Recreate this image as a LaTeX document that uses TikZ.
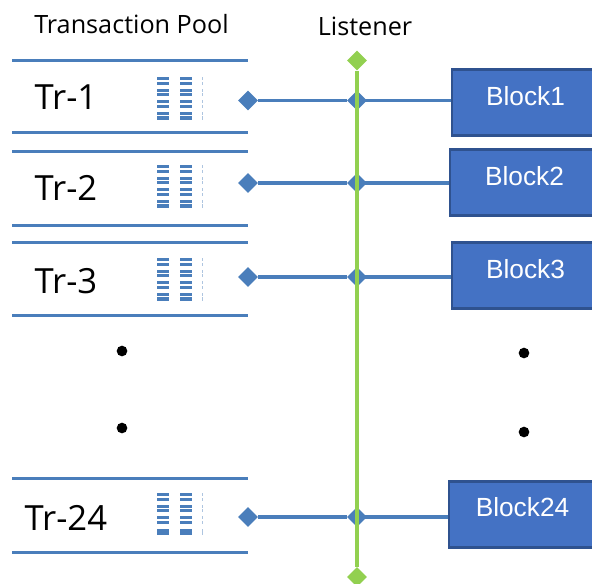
\documentclass[tikz,border=0pt]{standalone}
\usepackage{fontspec}
\setmainfont{Liberation Sans}
\newfontfamily\trfont{Open Sans}
\usetikzlibrary{shapes.geometric}
\definecolor{rowblue}{HTML}{4A7EBB}
\definecolor{boxfill}{HTML}{4472C4}
\definecolor{boxedge}{HTML}{2F528F}
\definecolor{listen}{HTML}{92D050}
\tikzset{
  x=0.75pt,y=-0.75pt,
  rowline/.style={draw=rowblue,line width=2.25pt},
  connector/.style={draw=rowblue,line width=2.5pt},
  tap/.style={diamond,fill=rowblue,inner sep=0pt,minimum width=15pt,minimum height=15pt},
  endtap/.style={diamond,fill=listen,inner sep=0pt,minimum width=15pt,minimum height=15pt},
  blockbox/.style={draw=boxedge,fill=boxfill,line width=2.2pt,anchor=north west,inner sep=0pt},
  blocktext/.style={text=white,font=\fontsize{19.7pt}{22pt}\selectfont},
  trtext/.style={font=\trfont\fontsize{26pt}{30pt}\selectfont,text=black},
  toptext/.style={font=\trfont\fontsize{18.9pt}{22pt}\selectfont,text=black},
  dotmark/.style={circle,fill=black,inner sep=0pt,minimum size=8pt},
}
\newcommand{\barpair}[2]{%
  \fill[rowblue] (157,#1) rectangle (169,#2);
  \fill[rowblue] (180,#1) rectangle (192,#2);
  \fill[rowblue!45] (201.5,#1) rectangle (203,#2);
}
\newcommand{\barsicon}[1]{%
  \foreach \d in {0,4.6,11.6,16.2,23.2,27.8,34.8,39.4}{%
    \pgfmathsetmacro{\ya}{#1+\d}\pgfmathsetmacro{\yb}{#1+\d+3.1}%
    \barpair{\ya}{\yb}}%
}
\begin{document}
\begin{tikzpicture}
\useasboundingbox (0,0) rectangle (592,583);
\fill[white] (0,0) rectangle (592,583);

% headings
\node[toptext,anchor=center] (poolhead) at (131.5,24) {Transaction Pool};
\node[toptext,anchor=center] (listhead) at (365,26) {Listener};

% row rules
\foreach \n/\a/\b in {a/60/132,b/151/225,c/242/315,d/478/552}{
  \draw[rowline] (12,\a) -- (248,\a);
  \draw[rowline] (12,\b) -- (248,\b);
}

% row labels
\node[trtext,anchor=west] (tr1) at (30,97) {Tr-1};
\node[trtext,anchor=west] (tr2) at (30,188) {Tr-2};
\node[trtext,anchor=west] (tr3) at (30,281) {Tr-3};
\node[trtext,anchor=west] (tr24) at (20,518) {Tr-24};

% icons
\barsicon{77}
\barsicon{165}
\barsicon{258}
\foreach \d in {0,4.6,11.6,16.2,23.2,27.8}{
  \pgfmathsetmacro{\ya}{493+\d}\pgfmathsetmacro{\yb}{493+\d+3.1}
  \barpair{\ya}{\yb}}
\barpair{529}{535}

% listener
\node[endtap] (ltop) at (357,60.5) {};
\node[endtap] (lbot) at (357,577) {};

% taps
\node[tap] (p1) at (248,100.5) {};
\node[tap] (p2) at (248,183) {};
\node[tap] (p3) at (248,277) {};
\node[tap] (p24) at (248,517) {};
\node[tap] (m1) at (357,100.5) {};
\node[tap] (m2) at (357,183) {};
\node[tap] (m3) at (357,277) {};
\node[tap] (m24) at (357,517) {};

% blocks
\node[blockbox,minimum width=108.75pt,minimum height=49.5pt] (b1) at (450.5,68) {};
\node[blockbox,minimum width=110.25pt,minimum height=49.5pt] (b2) at (448.5,148) {};
\node[blockbox,minimum width=108.75pt,minimum height=49.5pt] (b3) at (450.5,241) {};
\node[blockbox,minimum width=111pt,minimum height=49.5pt] (b24) at (447.5,480) {};
\node[blocktext] (t1) at (525.5,96) {Block1};
\node[blocktext] (t2) at (524.5,176) {Block2};
\node[blocktext] (t3) at (525.5,269) {Block3};
\node[blocktext] (t24) at (522.5,507) {Block24};

% connectors
\draw[connector] (p1) -- (m1);
\draw[connector] (p2) -- (m2);
\draw[connector] (p3) -- (m3);
\draw[connector] (p24) -- (m24);
\draw[connector] (m1.center) -- (b1.west |- m1.center);
\draw[connector] (m2.center) -- (b2.west |- m2.center);
\draw[connector] (m3.center) -- (b3.west |- m3.center);
\draw[connector] (m24.center) -- (b24.west |- m24.center);
\draw[draw=listen,line width=2.6pt] (ltop) -- (lbot);

% ellipsis dots
\node[dotmark] (d1) at (122,351) {};
\node[dotmark] (d2) at (122,428) {};
\node[dotmark] (d3) at (524,353) {};
\node[dotmark] (d4) at (524,432) {};
\end{tikzpicture}
\end{document}
